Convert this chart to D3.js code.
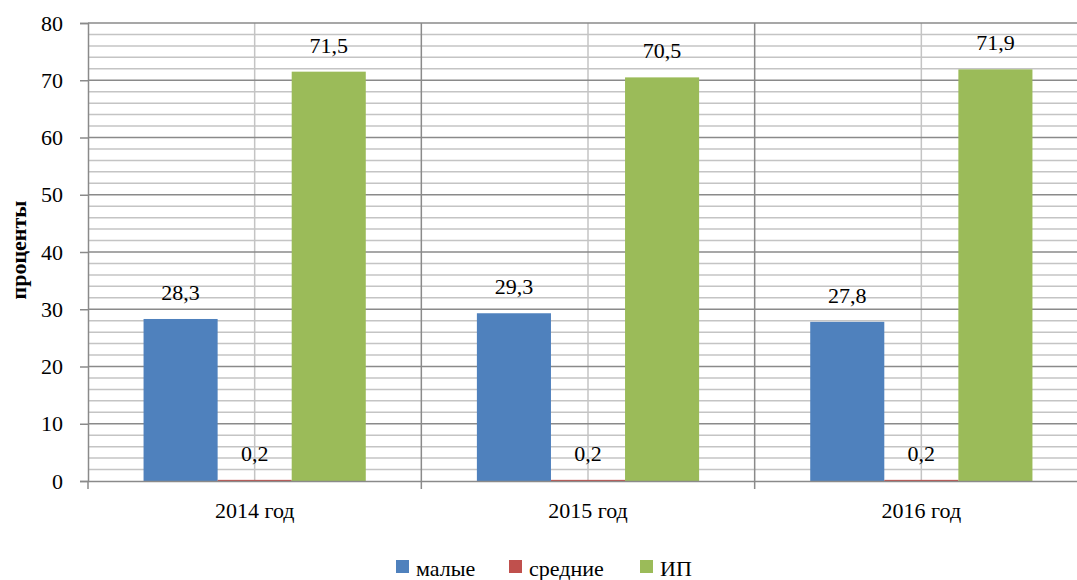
<!DOCTYPE html>
<html><head><meta charset="utf-8">
<script src="https://cdn.jsdelivr.net/npm/d3@7"></script>
</head><body style="margin:0;background:#fff"><svg id="c" width="1077" height="580" style="display:block;font-family:'Liberation Serif'"></svg>
<script>
const categories = ["2014 год", "2015 год", "2016 год"];
const seriesNames = ["малые", "средние", "ИП"];
const maliye = [28.3, 29.3, 27.8];
const srednie = [0.2, 0.2, 0.2];
const ip = [71.5, 70.5, 71.9];
const yTicks = [0, 10, 20, 30, 40, 50, 60, 70, 80];
const colors = ["#4F81BD", "#C0504D", "#9BBB59"];
const values = [maliye, srednie, ip];
const FONT = "Liberation Serif";
const FS = 22;

const svg = d3.select("#c");
const L = 88, R = 1088, T = 23, B = 481;
const x = d3.scaleBand().domain(categories).range([L, R]).padding(0);
const y = d3.scaleLinear().domain([0, 80]).range([B, T]);
const xi = d3.scaleBand().domain(seriesNames).range([0, x.bandwidth()]).paddingInner(0).paddingOuter(0.75);

function txt(sel, size, weight) {
  return sel.style("font-size", size + "px").style("font-family", FONT)
    .style("font-weight", weight || "normal").style("fill", "#000");
}

// minor horizontal grid
const minor = d3.range(0, 81, 2).filter(v => v % 10 !== 0);
svg.append("g").selectAll("line").data(minor).join("line")
  .attr("x1", L).attr("x2", R).attr("y1", d => y(d)).attr("y2", d => y(d))
  .attr("stroke", "#c4c4c4").attr("stroke-width", 1.5);
// minor vertical grid at category centres
svg.append("g").selectAll("line").data(categories).join("line")
  .attr("x1", d => x(d) + x.bandwidth()/2).attr("x2", d => x(d) + x.bandwidth()/2)
  .attr("y1", T).attr("y2", B).attr("stroke", "#c4c4c4").attr("stroke-width", 1.5);
// major horizontal grid
svg.append("g").selectAll("line").data(yTicks.filter(v => v > 0)).join("line")
  .attr("x1", L).attr("x2", R).attr("y1", d => y(d)).attr("y2", d => y(d))
  .attr("stroke", "#8a8a8a").attr("stroke-width", 1.5);
// major vertical grid at boundaries
const bounds = categories.slice(1).map(c => x(c)).concat([R]);
svg.append("g").selectAll("line").data(bounds).join("line")
  .attr("x1", d => d).attr("x2", d => d)
  .attr("y1", T).attr("y2", B).attr("stroke", "#8a8a8a").attr("stroke-width", 1.5);

// bars
categories.forEach((c, ci) => {
  seriesNames.forEach((s, si) => {
    const v = values[si][ci];
    svg.append("rect")
      .attr("x", x(c) + xi(s)).attr("width", xi.bandwidth())
      .attr("y", y(v)).attr("height", B - y(v))
      .attr("fill", colors[si]);
    txt(svg.append("text")
      .attr("x", x(c) + xi(s) + xi.bandwidth()/2).attr("y", y(v) - 19)
      .attr("text-anchor", "middle"), FS)
      .text(String(v).replace(".", ","));
  });
});

// y axis
const ya = svg.append("g").attr("transform", `translate(${L},0)`)
  .call(d3.axisLeft(y).tickValues(yTicks).tickSize(8).tickPadding(17));
ya.attr("font-family", null).attr("font-size", null);
ya.select(".domain").attr("stroke", "#8a8a8a").attr("stroke-width", 1.5);
ya.selectAll(".tick line").attr("stroke", "#8a8a8a").attr("stroke-width", 1.5);
txt(ya.selectAll(".tick text"), FS);

// x axis
const xa = svg.append("g").attr("transform", `translate(0,${B})`)
  .call(d3.axisBottom(x).tickSize(0).tickPadding(21));
xa.attr("font-family", null).attr("font-size", null);
xa.select(".domain").attr("stroke", "#8a8a8a").attr("stroke-width", 1.5);
txt(xa.selectAll(".tick text"), FS);
// x ticks at boundaries
svg.append("g").selectAll("line").data(categories).join("line")
  .attr("x1", d => x(d)).attr("x2", d => x(d)).attr("y1", B).attr("y2", B + 8)
  .attr("stroke", "#8a8a8a").attr("stroke-width", 1.5);

// y title
txt(svg.append("text").attr("transform", "translate(26,250) rotate(-90)")
  .attr("text-anchor", "middle"), 22, "bold")
  .text("проценты");

// legend
const legX = [396, 509, 640];
const lg = svg.append("g");
seriesNames.forEach((s, i) => {
  lg.append("rect").attr("x", legX[i]).attr("y", 560).attr("width", 13).attr("height", 13).attr("fill", colors[i]);
  txt(lg.append("text").attr("x", legX[i] + 20).attr("y", 576), FS).text(s);
});
</script></body></html>
